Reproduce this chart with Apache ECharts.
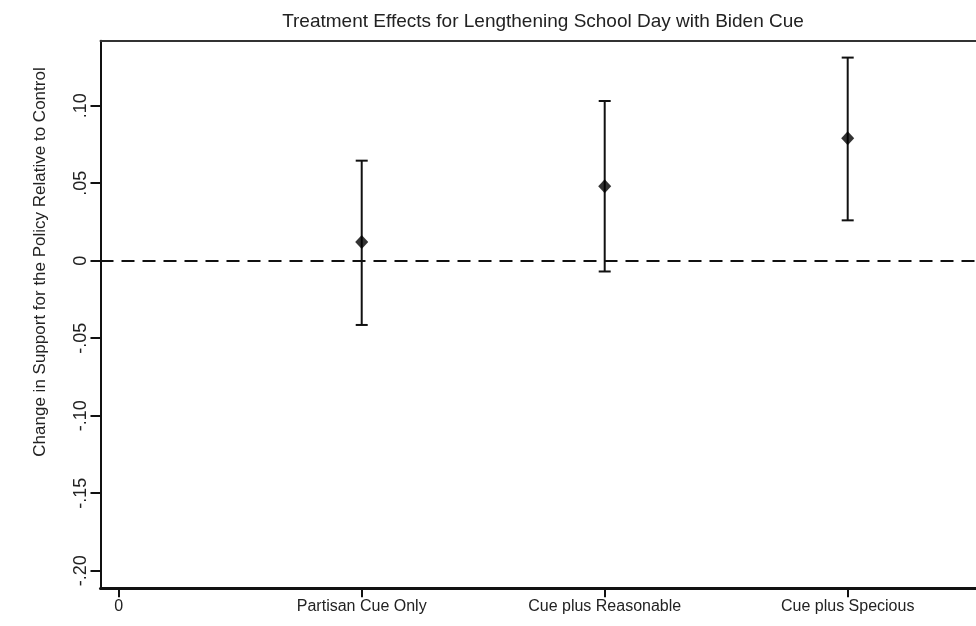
<!DOCTYPE html>
<html>
<head>
<meta charset="utf-8">
<script src="https://cdn.jsdelivr.net/npm/echarts@6/dist/echarts.min.js"></script>
<style>
html,body{margin:0;padding:0;background:#fff;}
#chart{width:976px;height:626px;}
</style>
</head>
<body>
<div id="chart"></div>
<script>
// ---- data ----
const xTicks = [0, 1, 2, 3];
const xTickLabels = ['0', 'Partisan Cue Only', 'Cue plus Reasonable', 'Cue plus Specious'];
const groupX = [1, 2, 3];
const estimates = [0.012, 0.048, 0.079];
const lowerCI = [-0.0415, -0.007, 0.026];
const upperCI = [0.0645, 0.103, 0.131];
const yTicks = [-0.20, -0.15, -0.10, -0.05, 0, 0.05, 0.10];
const yTickLabels = ['-.20', '-.15', '-.10', '-.05', '0', '.05', '.10'];
const titleText = 'Treatment Effects for Lengthening School Day with Biden Cue';
const yTitle = 'Change in Support for the Policy Relative to Control';

const FONT = '"Liberation Sans", Arial, sans-serif';
const chart = echarts.init(document.getElementById('chart'));

function labelFor(ticks, labels, v) {
  for (let i = 0; i < ticks.length; i++) {
    if (Math.abs(ticks[i] - v) < 1e-6) return labels[i];
  }
  return '';
}

const pointData = groupX.map((x, i) => [x, estimates[i]]);
const barData = groupX.map((x, i) => [x, lowerCI[i], upperCI[i]]);
const X_MIN = -0.075, X_MAX = 3.528;

chart.setOption({
  backgroundColor: '#ffffff',
  animation: false,
  title: {
    text: titleText,
    left: 538,
    textAlign: 'center',
    top: 7,
    textStyle: { fontFamily: FONT, fontSize: 19, fontWeight: 'normal', color: '#222' }
  },
  graphic: [{
    type: 'text',
    x: 40, y: 262,
    rotation: Math.PI / 2,
    style: {
      text: yTitle, fontFamily: FONT, fontSize: 17, fill: '#222',
      align: 'center', verticalAlign: 'middle'
    }
  }],
  grid: { left: 100.5, top: 40.7, right: 0, bottom: 37.7, show: false },
  xAxis: [{
    type: 'value', min: X_MIN, max: X_MAX,
    splitLine: { show: false },
    axisLine: { show: true, onZero: false, lineStyle: { color: '#111', width: 3 } },
    axisTick: { show: true, length: 9, customValues: xTicks, lineStyle: { color: '#111', width: 2 } },
    axisLabel: {
      show: true, customValues: xTicks, margin: 10,
      fontFamily: FONT, fontSize: 16, color: '#222',
      formatter: v => labelFor(xTicks, xTickLabels, v)
    }
  }, {
    type: 'value', min: X_MIN, max: X_MAX, position: 'top',
    splitLine: { show: false },
    axisLine: { show: true, onZero: false, lineStyle: { color: '#333', width: 2 } },
    axisTick: { show: false },
    axisLabel: { show: false }
  }],
  yAxis: {
    type: 'value', min: -0.2114, max: 0.1419,
    splitLine: { show: false },
    axisLine: { show: true, onZero: false, lineStyle: { color: '#111', width: 2 } },
    axisTick: { show: true, length: 10, customValues: yTicks, lineStyle: { color: '#111', width: 2 } },
    axisLabel: {
      show: true, customValues: yTicks, rotate: 90, margin: 10,
      fontFamily: FONT, fontSize: 18, color: '#222',
      formatter: v => labelFor(yTicks, yTickLabels, v)
    }
  },
  series: [
    {
      type: 'custom',
      xAxisIndex: 0,
      data: barData,
      z: 3,
      renderItem: function (params, api) {
        const x = api.value(0);
        const lo = api.coord([x, api.value(1)]);
        const hi = api.coord([x, api.value(2)]);
        const hw = 6;
        const style = { stroke: '#111', lineWidth: 2, fill: null };
        return {
          type: 'group',
          children: [
            { type: 'line', shape: { x1: lo[0], y1: lo[1], x2: hi[0], y2: hi[1] }, style: style },
            { type: 'line', shape: { x1: lo[0] - hw, y1: lo[1], x2: lo[0] + hw, y2: lo[1] }, style: style },
            { type: 'line', shape: { x1: hi[0] - hw, y1: hi[1], x2: hi[0] + hw, y2: hi[1] }, style: style }
          ]
        };
      }
    },
    {
      type: 'scatter',
      xAxisIndex: 0,
      data: pointData,
      symbol: 'diamond',
      symbolSize: [13, 14],
      z: 4,
      itemStyle: { color: '#000' },
      markLine: {
        silent: true,
        symbol: ['none', 'none'],
        label: { show: false },
        lineStyle: { color: '#111', width: 2, type: [13, 8] },
        data: [{ yAxis: 0 }]
      }
    }
  ]
});
</script>
</body>
</html>
